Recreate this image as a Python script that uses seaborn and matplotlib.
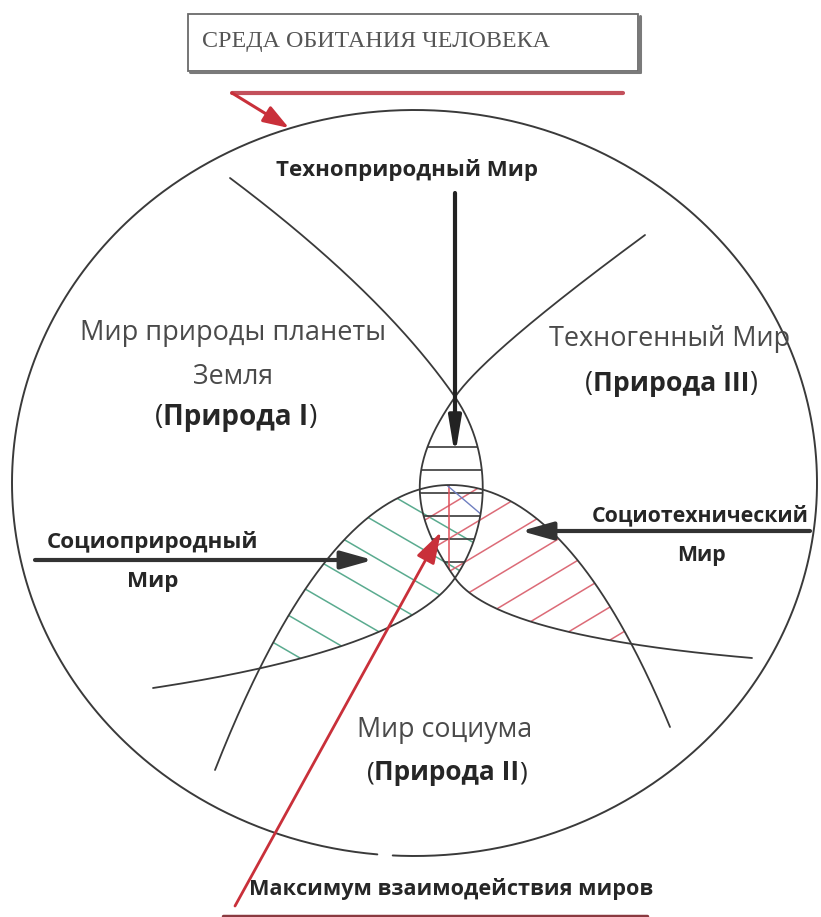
# Diagram: "Среда обитания человека" - three overlapping worlds
import numpy as np
import matplotlib
matplotlib.use("Agg")
import matplotlib.pyplot as plt
from matplotlib.path import Path
import seaborn as sns

# ---- shapes (pixel coords, y down), as Bezier nodes ----
nature_edge = [[(230, 178), (382, 292), (455, 397)],
               [(455, 397), (492, 451), (492, 524), (455, 578)],
               [(455, 578), (405, 650), (153, 688)]]
techno_edge = [[(645, 235), (486, 352), (455, 397)],
               [(455, 397), (408, 464), (408, 511), (455, 578)],
               [(455, 578), (495, 636), (752, 658)]]
socium_edge = [[(215, 770), (327, 485), (450, 485)],
               [(450, 485), (570, 485), (670, 727)]]
world_ellipse = (414.5, 483, 402.5, 373)  # cx, cy, a, b
ellipse_gap = (93.1, 95.3)                # degrees, small break at the bottom

# hatch offsets (intercepts) for the overlap zones
lens_rows = [447, 470, 493, 516, 539, 562]
green_rows = [268, 304, 340, 376, 412, 448, 484, 520]
red_rows = [775, 808, 841, 874, 907, 940, 973, 1006]

title = "СРЕДА ОБИТАНИЯ ЧЕЛОВЕКА"
world_labels = [
    ("Техноприродный Мир", "bold"),
    ("Мир природы планеты", "normal"),
    ("Земля", "normal"),
    ("Техногенный Мир", "normal"),
    ("Мир социума", "normal"),
]
nature_tags = ["Природа I", "Природа III", "Природа II"]
side_labels = ["Социоприродный", "Социотехнический", "Мир"]
bottom_label = "Максимум взаимодействия миров"

INK = "#3a3a3a"
TXT = "#4a4a4a"
BTXT = "#262626"
GREEN = "#5aab8f"
PINK = "#dc6b77"
RED = "#c9303a"

sns.set_theme(style="white")
plt.rcParams["font.family"] = ["Open Sans", "DejaVu Sans"]

fig = plt.figure(figsize=(8.21, 9.17), dpi=100)
ax = fig.add_axes([0, 0, 1, 1])
renderer = fig.canvas.get_renderer()


def bezier(nodes, n=120):
    p = np.asarray(nodes, float)
    t = np.linspace(0, 1, n)[:, None]
    if len(p) == 3:
        return (1 - t) ** 2 * p[0] + 2 * (1 - t) * t * p[1] + t ** 2 * p[2]
    return ((1 - t) ** 3 * p[0] + 3 * (1 - t) ** 2 * t * p[1]
            + 3 * (1 - t) * t ** 2 * p[2] + t ** 3 * p[3])


def curve(pieces):
    return np.vstack([bezier(pc) for pc in pieces])


def draw_curve(xy, color=INK, lw=1.3):
    sns.lineplot(x=xy[:, 0], y=xy[:, 1], sort=False, estimator=None,
                 color=color, lw=lw, ax=ax)


nat = curve(nature_edge)
tec = curve(techno_edge)
soc = curve(socium_edge)

# regions as closed paths
N = Path(np.vstack([nat, [(-500, nat[-1, 1]), (-500, nat[0, 1])]]))
T = Path(np.vstack([tec, [(1400, tec[-1, 1]), (1400, tec[0, 1])]]))
S = Path(np.vstack([soc, [(soc[-1, 0], 1500), (soc[0, 0], 1500)]]))


def hatch(slope, rows, regions, color, lw=1.1, vertical=False):
    s = np.arange(0, 900, 0.4)
    for c in rows:
        if vertical:
            xs, ys = np.full_like(s, c), s
        else:
            xs, ys = s, slope * s + c
        pts = np.column_stack([xs, ys])
        m = np.ones(len(s), bool)
        for r in regions:
            m &= r.contains_points(pts)
        edges = np.flatnonzero(np.diff(np.r_[0, m.astype(int), 0]))
        for a, b in zip(edges[::2], edges[1::2]):
            ax.plot(xs[a:b], ys[a:b], color=color, lw=lw, solid_capstyle="butt")


hatch(0.58, green_rows, [N, S], GREEN)
hatch(-0.6, red_rows, [T, S], PINK)
hatch(0.0, lens_rows, [N, T], INK, lw=1.2)
hatch(0, [449], [N, T, S], "#e0505a", lw=1.1, vertical=True)
hatch(0.85, [487 - 0.85 * 449], [N, T, S], "#6f7fc0", lw=1.0)

for xy in (nat, tec, soc):
    draw_curve(xy)

# outer ellipse with a small break at the bottom
cx, cy, ea, eb = world_ellipse
th = np.deg2rad(np.linspace(ellipse_gap[1], ellipse_gap[0] + 360, 900))
ax.plot(cx + ea * np.cos(th), cy + eb * np.sin(th), color=INK, lw=1.4)

# title box
ax.add_patch(plt.Rectangle((188, 14), 450, 57, fill=False, ec="#6a6a6a", lw=1.3))
ax.plot([190, 640], [72, 72], color="#7a7a7a", lw=2.2)
ax.plot([639.5, 639.5], [16, 72], color="#7a7a7a", lw=2.2)


def fit_text(xc, y, parts, width=None, color=BTXT, family=None, ha="center", size=None):
    # parts: list of (text, weight); size chosen so the whole string spans `width` px
    kw = {} if family is None else {"family": family}
    ts = []
    for s, w in parts:
        t = ax.text(0, y, s, fontsize=20, fontweight=w, color=color,
                    ha="left", va="center", **kw)
        ts.append(t)
    if size is None:
        total = sum(t.get_window_extent(renderer).width for t in ts)
        size = 20 * width / total
    for t in ts:
        t.set_fontsize(size)
    ws = [t.get_window_extent(renderer).width for t in ts]
    x = xc - sum(ws) / 2 if ha == "center" else xc
    for t, w in zip(ts, ws):
        t.set_x(x)
        x += w
    return size


fit_text(202, 42, [(title, "normal")], 346, "#555555",
         family=["Liberation Serif", "DejaVu Serif"], ha="left")

fit_text(407, 170, [world_labels[0]], 260)
fit_text(233, 333, [world_labels[1]], 306, TXT)
fit_text(233, 377, [world_labels[2]], 80, TXT)
fit_text(236, 417, [("(", "normal"), (nature_tags[0], "bold"), (")", "normal")], 162)
fit_text(670, 339, [world_labels[3]], 241, TXT)
fit_text(671, 384, [("(", "normal"), (nature_tags[1], "bold"), (")", "normal")], 172)
fit_text(445, 730, [world_labels[4]], 175, TXT)
fit_text(447, 773, [("(", "normal"), (nature_tags[2], "bold"), (")", "normal")], 161)

fs = fit_text(152, 542, [(side_labels[0], "bold")], 211)
fit_text(153, 581, [(side_labels[2], "bold")], size=fs)
fs = fit_text(700, 516, [(side_labels[1], "bold")], 216)
fit_text(701, 555, [(side_labels[2], "bold")], size=fs)
fit_text(451, 889, [(bottom_label, "bold")], 402)

# arrows
arrow_kw = dict(arrowstyle="-|>,head_length=1.6,head_width=0.45", lw=3, color="#333333",
                shrinkA=0, shrinkB=0)
ax.annotate("", xy=(455, 456), xytext=(455, 193),
            arrowprops=dict(arrow_kw, arrowstyle="-|>,head_length=1.8,head_width=0.3",
                            color="#222222"))
ax.annotate("", xy=(373, 560), xytext=(35, 560), arrowprops=arrow_kw)
ax.annotate("", xy=(521, 531), xytext=(810, 531), arrowprops=arrow_kw)

ax.annotate("", xy=(441, 532), xytext=(235, 906),
            arrowprops=dict(arrowstyle="-|>,head_length=1.6,head_width=0.5", lw=2,
                            color=RED, shrinkA=0, shrinkB=0))
ax.plot([232, 623], [93, 93], color="#c3505b", lw=3)
ax.annotate("", xy=(289, 128), xytext=(232, 93),
            arrowprops=dict(arrowstyle="-|>,head_length=1.3,head_width=0.45", lw=2.2,
                            color=RED, shrinkA=0, shrinkB=0))
ax.plot([223, 647], [915.5, 915.5], color="#8a3a40", lw=2.5)

ax.set_xlim(0, 821)
ax.set_ylim(917, 0)
ax.axis("off")
fig.savefig("out.png", dpi=100)
